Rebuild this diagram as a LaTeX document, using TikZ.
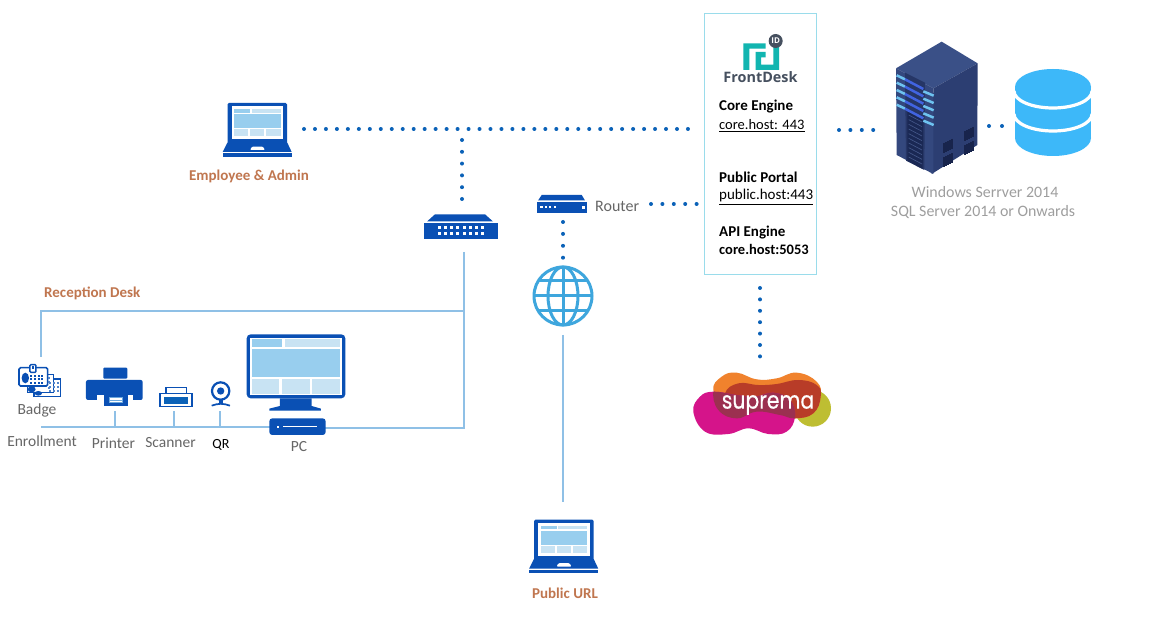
\documentclass[tikz,border=0pt]{standalone}
\usepackage{fontspec}
\setmainfont{Carlito}
\newfontfamily\logofont{Open Sans}
\newfontfamily\suprfont[FakeBold=0.5]{Poppins}
\definecolor{iconblue}{HTML}{0A50B4}
\definecolor{panelmid}{HTML}{98CEEE}
\definecolor{panellight}{HTML}{C8E3F3}
\definecolor{wire}{HTML}{8FC0E6}
\definecolor{dotblue}{HTML}{0B62B8}
\definecolor{rust}{HTML}{C0764F}
\definecolor{labelgray}{HTML}{666666}
\definecolor{capgray}{HTML}{9E9E9E}
\definecolor{boxcyan}{HTML}{9ADCEB}
\definecolor{teal}{HTML}{12B5B0}
\definecolor{dbblue}{HTML}{3DB8F9}
\definecolor{globeblue}{HTML}{3EA6DD}
\definecolor{logodark}{HTML}{46505F}
\definecolor{srvtop}{HTML}{3A5087}
\definecolor{srvright}{HTML}{2C3E72}
\definecolor{srvleft}{HTML}{34487E}
\definecolor{srvrecess}{HTML}{263666}
\definecolor{srvdeep}{HTML}{1A2854}
\definecolor{srvslat}{HTML}{46598C}
\definecolor{srvled}{HTML}{6EC3F0}
\definecolor{srvledb}{HTML}{4164E1}
\definecolor{srvvent}{HTML}{18244C}
\definecolor{supolive}{HTML}{BEBE32}
\definecolor{suporange}{HTML}{F0822D}
\definecolor{supred}{HTML}{B83C28}
\definecolor{supmag}{HTML}{D5148A}
\definecolor{supover}{HTML}{9B3050}
\tikzset{
  x=1pt,y=-1pt,
  wireline/.style={draw=wire,line width=1.5pt},
  dotline/.style={draw=dotblue,line width=4pt,line cap=round,dash pattern=on 0pt off 11.4pt},
  devlabel/.style={text=labelgray,font=\fontsize{15.5}{18}\selectfont,inner sep=0pt},
  rustlabel/.style={text=rust,font=\fontsize{15}{17}\selectfont\bfseries,inner sep=0pt},
  caplabel/.style={text=capgray,font=\fontsize{15.9}{18}\selectfont,inner sep=0pt},
  infolabel/.style={text=black,font=\fontsize{15}{17}\selectfont,inner sep=0pt,anchor=west},
  laptopicon/.pic={
    \fill[iconblue,rounded corners=1.5pt] (5.5,0) rectangle (65,41);
    \fill[white] (9.5,3.5) rectangle (61,36);
    \fill[panelmid] (12,6.3) rectangle (28,9.7);
    \fill[panellight] (29.7,6.3) rectangle (58.7,9.7);
    \fill[panelmid] (12,11) rectangle (58.7,25);
    \fill[panellight] (12,26.3) rectangle (26.3,33);
    \fill[panellight] (28,26.3) rectangle (42.3,33);
    \fill[panellight] (44,26.3) rectangle (58.7,33);
    \fill[iconblue] (5.3,39.7) -- (65.3,39.7) -- (69.7,49) -- (0.7,49) -- cycle;
    \fill[iconblue] (0.7,50.5) rectangle (69.7,53.7);
    \fill[white,rounded corners=1pt] (30,43.7) -- (41,43.7) -- (43,47) -- (28,47) -- cycle;
  }
}
\begin{document}
\begin{tikzpicture}
\useasboundingbox (0,0) rectangle (1149,644);
\fill[white] (0,0) rectangle (1149,644);

% anchor points of the connectors
\coordinate (lapA) at (304,129);
\coordinate (busEnd) at (690,129);
\coordinate (busTee) at (462,140);
\coordinate (swTop) at (462,206);
\coordinate (swBot) at (464,252);
\coordinate (deskTee) at (464,311);
\coordinate (pcTee) at (464,428);
\coordinate (deskCorner) at (41,311);
\coordinate (badgeTop) at (41,357);
\coordinate (badgeBot) at (41,427);
\coordinate (pcLeft) at (270,427);
\coordinate (pcRight) at (325,428);
\coordinate (prnStub) at (115,411);
\coordinate (prnFoot) at (115,427);
\coordinate (scnStub) at (174,411);
\coordinate (scnFoot) at (174,427);
\coordinate (qrStub) at (220,411);
\coordinate (qrFoot) at (220,427);
\coordinate (routerR) at (651,204);
\coordinate (boxL) at (697,204);
\coordinate (routerB) at (563,222);
\coordinate (globeT) at (563,260);
\coordinate (globeB) at (563,335);
\coordinate (pubLap) at (563,502);
\coordinate (boxR) at (839,130);
\coordinate (srvL) at (875,130);
\coordinate (srvR) at (989,126);
\coordinate (dbL) at (1003,126);
\coordinate (boxB) at (760,288);
\coordinate (suprT) at (760,362);

% connectors
\draw[wireline] (swBot) -- (pcTee) -- (pcRight);
\draw[wireline] (badgeTop) -- (deskCorner) -- (deskTee);
\draw[wireline] (badgeBot) -- (pcLeft);
\draw[wireline] (prnStub) -- (prnFoot);
\draw[wireline] (scnStub) -- (scnFoot);
\draw[wireline] (qrStub) -- (qrFoot);
\draw[wireline] (globeB) -- (pubLap);
\draw[dotline,dash pattern=on 0pt off 10.97pt] (lapA) -- (busEnd);
\draw[dotline,dash pattern=on 0pt off 11.8pt] (busTee) -- (swTop);
\draw[dotline] (routerR) -- (boxL);
\draw[dotline,dash pattern=on 0pt off 11.9pt] (routerB) -- (globeT);
\draw[dotline] (boxR) -- (srvL);
\draw[dotline,dash pattern=on 0pt off 13pt] (srvR) -- (dbL);
\draw[dotline] (boxB) -- (suprT);

% laptops
\pic at (222,103) {laptopicon};
\pic at (528.5,519.5) {laptopicon};
\node[rustlabel] (empLbl) at (249,176) {Employee \& Admin};
\node[rustlabel] (pubLbl) at (565,593.5) {Public URL};
\node[rustlabel,anchor=west] (deskLbl) at (44,293.5) {Reception Desk};

% switch
\fill[iconblue] (435,214.3) -- (485,214.3) -- (493,221.5) -- (427,221.5) -- cycle;
\fill[iconblue] (424,223) rectangle (497.7,239.3);
\foreach \i in {0,...,7}{
  \fill[white] (437.8+6.2*\i,226.2) rectangle ++(3,3);
  \fill[white] (437.8+6.2*\i,232.2) rectangle ++(3,3);
}
% router
\fill[iconblue] (541.7,195) -- (581.7,195) -- (585,200.5) -- (538,200.5) -- cycle;
\fill[iconblue] (536.7,201.7) rectangle (586.7,213.3);
\foreach \i in {0,...,3}{\fill[white] (540.3+4.4*\i,206.2) rectangle ++(2.3,2.3);}
\fill[white] (582,206) rectangle ++(3,3);
\node[text=labelgray,font=\fontsize{16}{18}\selectfont,inner sep=0pt,anchor=west] (routerLbl) at (595,206.5) {Router};

% globe
\begin{scope}[draw=globeblue,line width=3pt]
  \draw (563,296) circle[radius=29];
  \draw (563,296) ellipse[x radius=15,y radius=29];
  \draw (563,267) -- (563,325);
  \draw (534,296) -- (592,296);
  \draw (538,281) -- (588,281);
  \draw (538,311) -- (588,311);
\end{scope}

% reception-desk icons, drawn at 3x of the reference pixels
\begin{scope}[shift={(0,280)},x=0.33333pt,y=-0.33333pt]
  % badge
  \draw[iconblue,fill=white,line width=1.3pt] (102,297) rectangle (182,350);
  \draw[iconblue,fill=white,line width=1.3pt] (82,283) rectangle (160,337);
  \draw[iconblue,fill=white,line width=1.6pt,rounded corners=1.5pt] (57,263) rectangle (143,318);
  \foreach \cx in {150,162,174}{\foreach \cy in {308,320,332}{\fill[iconblue!70] (\cx-3,\cy-3) rectangle ++(6,6);}}
  \foreach \cy in {295,305,325}{\fill[iconblue!70] (148-3,\cy-3) rectangle ++(6,6);}
  \fill[iconblue] (95,328) ellipse[x radius=12,y radius=9];
  \fill[iconblue] (115,340) ellipse[x radius=11,y radius=7];
  \fill[iconblue] (76,294) ellipse[x radius=11,y radius=16];
  \foreach \cx in {94,105,116,127}{\foreach \cy in {288,298,308}{\fill[iconblue] (\cx-3,\cy-3) rectangle ++(6,6);}}
  \draw[iconblue,fill=white,line width=1.5pt,rounded corners=1pt] (90,254) rectangle (108,277);
  \fill[iconblue] (95,258) rectangle (103,266);
  % printer
  \fill[iconblue,rounded corners=1pt] (310,263) rectangle (382,296);
  \fill[iconblue,rounded corners=2pt] (258,300) rectangle (428,360);
  \fill[white] (290,345) rectangle (398,362);
  \fill[iconblue] (312,345) rectangle (385,377);
  \fill[panelmid!70!iconblue] (326,350) rectangle (370,368);
  \foreach \ly in {354,359,364}{\draw[white,line width=0.5pt] (330,\ly) -- (366,\ly);}
  % scanner
  \draw[iconblue,fill=white,line width=1.3pt] (498,323) rectangle (560,341);
  \draw[iconblue,fill=white,line width=1.6pt] (480,341) rectangle (576,379);
  \fill[dotblue] (491,350) rectangle (565,372);
  % webcam
  \draw[iconblue,fill=white,line width=2.2pt] (662,333) circle[radius=26];
  \fill[iconblue] (662,333) circle[radius=11];
  \fill[iconblue] (656,358) rectangle (668,372);
  \draw[iconblue,line width=1.7pt] (635,377) to[bend left=20] (690,377);
  % monitor
  \fill[iconblue,rounded corners=4pt] (740,163) rectangle (1036,355);
  \fill[white] (750,173) rectangle (1027,346);
  \fill[panelmid] (757,178) rectangle (845,200);
  \fill[panellight] (855,178) rectangle (1020,200);
  \fill[panelmid] (757,207) rectangle (1020,292);
  \fill[panellight] (757,298) rectangle (838,343);
  \fill[panellight] (847,298) rectangle (930,343);
  \fill[panellight] (937,298) rectangle (1020,343);
  \fill[iconblue] (840,355) -- (935,355) -- (935,378) -- (963,386) -- (963,392) -- (808,392) -- (808,386) -- (840,378) -- cycle;
  % pc box
  \fill[iconblue,rounded corners=3pt] (808,415) rectangle (977,465);
  \fill[white] (830,437) rectangle (836,443);
  \fill[white] (850,437) rectangle (952,442);
\end{scope}

\node[devlabel] (badgeLbl) at (37,410) {Badge};
\node[devlabel] (enrLbl) at (42,441) {Enrollment};
\node[devlabel] (prnLbl) at (113.5,443) {Printer};
\node[devlabel] (scnLbl) at (170.5,443) {Scanner};
\node[inner sep=0pt,text=black,font=\fontsize{14}{17}\selectfont] (qrLbl) at (221,445) {QR};
\node[devlabel] (pcLbl) at (299,447) {PC};

% application box
\node[draw=boxcyan,line width=1.3pt,fill=white,minimum width=112pt,minimum height=261pt,inner sep=0pt] (appBox) at (760.5,144) {};
\begin{scope}[shift={(735,30)},x=0.33333pt,y=-0.33333pt]
  \fill[teal] (25,120) -- (25,40) -- (92,40) -- (92,56) -- (43,56) -- (43,120) -- cycle;
  \fill[teal] (115,50) -- (132,50) -- (132,120) -- (62,120) -- (62,66) -- (92,66) -- (92,82) -- (78,82) -- (78,104) -- (115,104) -- cycle;
  \fill[logodark] (122,33) circle[radius=21];
  \node[text=white,font=\logofont\fontsize{8}{9}\selectfont\bfseries,inner sep=0pt] (idTxt) at (122,33) {ID};
\end{scope}
\node[text=logodark,font=\logofont\fontsize{14.4}{16}\selectfont\bfseries,inner sep=0pt] (fdLbl) at (760.5,77) {FrontDesk};
\node[infolabel] (coreT) at (719,106.5) {\textbf{Core Engine}};
\node[infolabel,font=\fontsize{14.5}{17}\selectfont] (coreU) at (719,125.5) {\underline{core.host: 443}};
\node[infolabel] (pubT) at (719,177.5) {\textbf{Public Portal}};
\node[infolabel] (pubU) at (719,197) {\underline{public.host:443}};
\node[infolabel] (apiT) at (719,232.5) {\textbf{API Engine}};
\node[infolabel,font=\fontsize{14.5}{17}\selectfont] (apiU) at (719,249.5) {\textbf{core.host:5053}};

% server
\begin{scope}[shift={(690,0)},x=0.33333pt,y=-0.33333pt]
  \fill[srvtop] (618,205) -- (755,125) -- (863,190) -- (730,265) -- cycle;
  \fill[srvright] (730,265) -- (863,190) -- (862,435) -- (725,522) -- cycle;
  \fill[srvleft] (618,205) -- (730,265) -- (730,522) -- (620,465) -- cycle;
  \fill[srvrecess] (645,218) -- (705,248) -- (703,510) -- (648,482) -- cycle;
  \fill[srvdeep] (652,330) -- (700,355) -- (698,507) -- (652,482) -- cycle;
  \foreach \vv in {0,1,...,9}{\draw[srvslat,line width=0.6pt] (656,345+14*\vv) -- (696,366+14*\vv);}
  \foreach \st in {0,22,44,66,88}{
    \draw[srvled,line width=2.5pt] (620,226+\st) -- (645,238+\st);
    \draw[srvledb,line width=2.5pt] (645,238+\st) -- (700,267+\st);
    \draw[srvled,line width=2.5pt] (700,274+\st) -- (731,287+\st);
  }
  \foreach \ox/\oy in {762/428,762/472,825/392,825/436}{
    \foreach \k in {0,1,2,3,4}{
      \draw[srvvent,line width=1.1pt] (\ox+6*\k,\oy-3*\k) -- ++(0,30);
    }
  }
\end{scope}

% database
\fill[dbblue] (1015,87) rectangle (1091,138);
\fill[dbblue] (1053,87) ellipse[x radius=38,y radius=18];
\fill[dbblue] (1053,138) ellipse[x radius=38,y radius=18];
\draw[white,line width=3.2pt] (1014,91) arc[start angle=180,end angle=0,x radius=39,y radius=17];
\draw[white,line width=3.2pt] (1014,114) arc[start angle=180,end angle=0,x radius=39,y radius=17];

\node[caplabel] (winLbl) at (985,192) {Windows Serrver 2014};
\node[caplabel] (sqlLbl) at (983,212.5) {SQL Server 2014 or Onwards};

% suprema logo
\begin{scope}[shift={(680,360)},x=0.33333pt,y=-0.33333pt]
  \fill[supolive] (398,145) circle[radius=55];
  \fill[suporange] plot[smooth cycle,tension=0.75] coordinates {(100,90) (125,50) (170,38) (230,58) (290,55) (350,38) (410,65) (422,110) (400,160) (345,175) (300,165) (230,170) (140,140)};
  \fill[supred] plot[smooth cycle,tension=0.75] coordinates {(135,100) (175,70) (235,75) (290,72) (355,60) (410,75) (422,110) (400,160) (345,175) (300,165) (230,170) (150,150)};
  \fill[supmag] plot[smooth cycle,tension=0.7] coordinates {(40,155) (60,110) (100,95) (170,105) (225,110) (280,98) (330,120) (345,170) (320,215) (265,222) (205,205) (145,222) (75,215)};
  \begin{scope}
    \clip plot[smooth cycle,tension=0.7] coordinates {(40,155) (60,110) (100,95) (170,105) (225,110) (280,98) (330,120) (345,170) (320,215) (265,222) (205,205) (145,222) (75,215)};
    \fill[supover] plot[smooth cycle,tension=0.75] coordinates {(100,90) (125,50) (170,38) (230,58) (290,55) (350,38) (410,65) (422,110) (400,160) (345,175) (300,165) (230,155) (170,175) (115,150)};
  \end{scope}
  \node[text=white,font=\suprfont\fontsize{21}{24}\selectfont,inner sep=0pt] (suprLbl) at (264,135) {\scalebox{0.97}[1.15]{suprema}};
\end{scope}
\end{tikzpicture}
\end{document}
